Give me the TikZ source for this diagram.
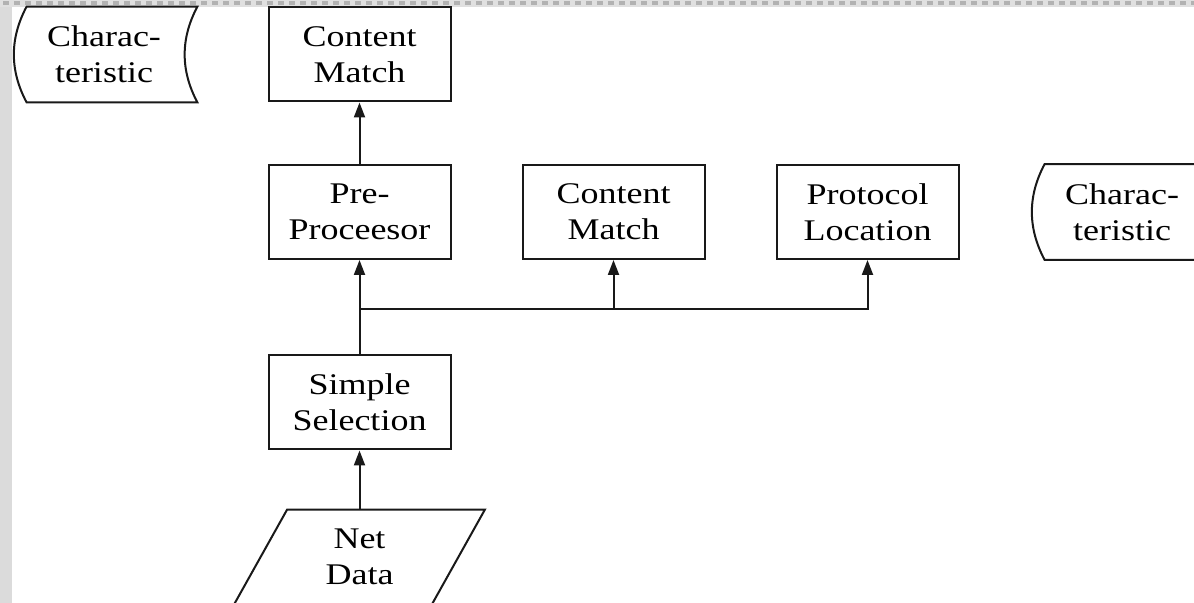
\documentclass[tikz,border=0pt]{standalone}
\usepackage{fontspec}
\setmainfont[FakeStretch=1.2]{Liberation Serif}
\usetikzlibrary{arrows.meta,positioning}

\begin{document}
\begin{tikzpicture}[x=0.5pt,y=-0.5pt,
    procbox/.style={draw=black!90,line width=1pt,minimum width=91pt,minimum height=47pt,align=center,font=\fontsize{15}{18}\selectfont},
    chartext/.style={minimum width=85pt,minimum height=47.5pt,align=center,font=\fontsize{15}{18}\selectfont},
    arr/.style={draw=black!90,line width=1pt,-{Triangle[length=7.5pt,width=5.5pt]}}]
    \clip (0,0) rectangle (1194,603);
    % screen frame
    \fill[black!14] (0,0) rectangle (12,603);
    \fill[black!12] (0,0) rectangle (1194,7);
    \foreach \i in {0,...,108}
        \fill[black!30] (3+11*\i,1.5) rectangle +(6,4);
    \node[chartext] (char1) at (104,54.5) {Charac-\\teristic};
    \node[procbox] (match1) at (359.5,54.5) {Content\\Match};
    \node[procbox] (pre) at (359.5,212) {Pre-\\Proceesor};
    \node[procbox,right=35pt of pre] (match2) {Content\\Match};
    \node[procbox,right=35pt of match2] (proto) {Protocol\\Location};
    \node[chartext] (char2) at (1122,212) {Charac-\\teristic};
    \node[procbox] (simple) at (359.5,402.5) {Simple\\Selection};
    \node[minimum width=98.5pt,minimum height=47pt,align=center,font=\fontsize{15}{18}\selectfont] (net) at (359.5,557) {Net\\Data};
    % outlines
    \foreach \c in {char1,char2}
        \draw[black!90,line width=1pt] ([xshift=4pt]\c.north west) -- ([xshift=4pt]\c.north east)
            .. controls +(-17,32) and +(-17,-32) .. ([xshift=4pt]\c.south east) -- ([xshift=4pt]\c.south west)
            .. controls +(-17,-32) and +(-17,32) .. ([xshift=4pt]\c.north west) -- cycle;
    \draw[black!90,line width=1pt] ([xshift=13.25pt]net.north west) -- ([xshift=13.25pt]net.north east)
        -- ([xshift=-13.25pt]net.south east) -- ([xshift=-13.25pt]net.south west) -- cycle;
    % connectors
    \draw[arr] (pre) -- (match1);
    \draw[arr] (net) -- (simple);
    \draw[arr] (simple) -- (pre);
    \coordinate (split) at (pre.south |- 0,309);
    \draw[arr] (split) -| (proto);
    \draw[arr] (split -| match2) -- (match2);
\end{tikzpicture}
\end{document}
